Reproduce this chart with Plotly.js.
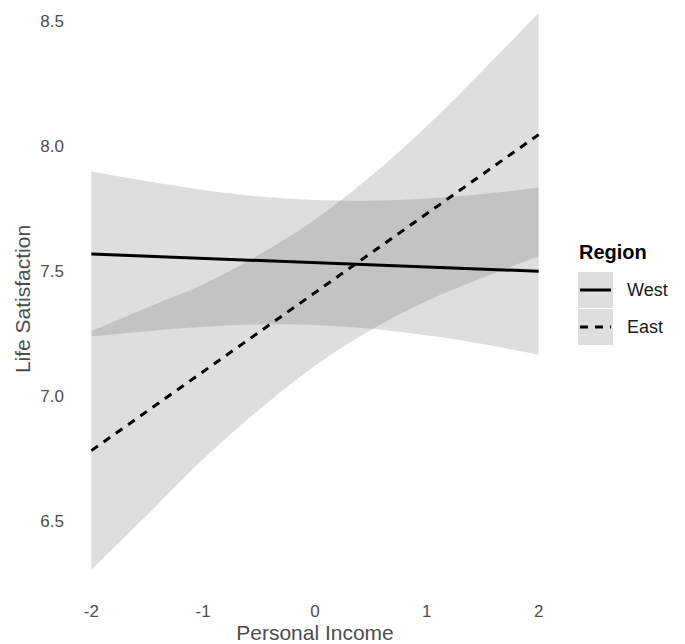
<!DOCTYPE html>
<html>
<head>
<meta charset="utf-8">
<script src="https://cdn.plot.ly/plotly-3.0.1.min.js"></script>
<style>
  html, body { margin: 0; padding: 0; background: #ffffff; }
  #chart { width: 685px; height: 644px; }
</style>
</head>
<body>
<div id="chart"></div>
<script>
// ---- data ----
const incomeX   = [-2, -1.5, -1, -0.5, 0, 0.5, 1, 1.5, 2];
const westLower = [7.238, 7.258, 7.276, 7.285, 7.283, 7.268, 7.242, 7.207, 7.164];
const westUpper = [7.897, 7.858, 7.823, 7.797, 7.783, 7.780, 7.789, 7.807, 7.833];
const eastLower = [6.302, 6.523, 6.746, 6.944, 7.120, 7.263, 7.379, 7.472, 7.558];
const eastUpper = [7.258, 7.353, 7.446, 7.564, 7.705, 7.879, 8.079, 8.302, 8.532];
const fitX      = [-2, 2];
const westFit   = [7.567, 7.498];
const eastFit   = [6.780, 8.045];
const regions   = ['West', 'East'];
const legendTitle = 'Region';
const xTickVals = [-2, -1, 0, 1, 2];
const xTickText = ['-2', '-1', '0', '1', '2'];
const yTickVals = [6.5, 7.0, 7.5, 8.0, 8.5];
const yTickText = ['6.5', '7.0', '7.5', '8.0', '8.5'];

// ---- styling / layout ----
const FONT = 'Liberation Sans, Arial, Helvetica, sans-serif';
const ribbonFill = 'rgba(90,90,90,0.2)';
const W = 685, H = 644;
const M = { l: 69, r: 124, t: 0, b: 46 };
const PW = W - M.l - M.r, PH = H - M.t - M.b;
const px2x = px => (px - M.l) / PW;
const py2y = py => 1 - (py - M.t) / PH;

const traces = [
  { x: incomeX, y: westLower, mode: 'lines', line: { width: 0, shape: 'spline' },
    showlegend: false, hoverinfo: 'skip' },
  { x: incomeX, y: westUpper, mode: 'lines', line: { width: 0, shape: 'spline' },
    fill: 'tonexty', fillcolor: ribbonFill, showlegend: false, hoverinfo: 'skip' },
  { x: incomeX, y: eastLower, mode: 'lines', line: { width: 0, shape: 'spline' },
    showlegend: false, hoverinfo: 'skip' },
  { x: incomeX, y: eastUpper, mode: 'lines', line: { width: 0, shape: 'spline' },
    fill: 'tonexty', fillcolor: ribbonFill, showlegend: false, hoverinfo: 'skip' },
  { x: fitX, y: westFit, mode: 'lines', name: regions[0],
    line: { color: '#000000', width: 3 }, showlegend: false },
  { x: fitX, y: eastFit, mode: 'lines', name: regions[1],
    line: { color: '#000000', width: 3, dash: '8px,7px' }, showlegend: false }
];

// custom ggplot-style legend
const keyL = 578, keyR = 613, keyH = 36, keyTop = 272;
const shapes = [];
const annotations = [
  { text: '<b>' + legendTitle + '</b>', xref: 'paper', yref: 'paper',
    x: px2x(keyL - 1), y: py2y(252), xanchor: 'left', yanchor: 'middle', showarrow: false,
    font: { family: FONT, size: 20, color: '#000000' } }
];
regions.forEach((name, i) => {
  const top = keyTop + i * (keyH + 1);
  shapes.push({ type: 'rect', xref: 'paper', yref: 'paper', layer: 'below',
    x0: px2x(keyL), x1: px2x(keyR), y0: py2y(top), y1: py2y(top + keyH),
    fillcolor: '#DEDEDE', line: { width: 0 } });
  shapes.push({ type: 'line', xref: 'paper', yref: 'paper',
    x0: px2x(keyL + 2), x1: px2x(keyR - 2), y0: py2y(top + keyH / 2), y1: py2y(top + keyH / 2),
    line: { color: '#000000', width: 3, dash: i === 0 ? 'solid' : '8px,7px' } });
  annotations.push({ text: name, xref: 'paper', yref: 'paper',
    x: px2x(625), y: py2y(top + keyH / 2), xanchor: 'left', yanchor: 'middle', showarrow: false,
    font: { family: FONT, size: 18, color: '#1A1A1A' } });
});

const axisCommon = {
  showgrid: false, zeroline: false, showline: false, ticks: '', ticklen: 0,
  tickfont: { family: FONT, size: 17, color: '#4D4D4D' }
};

const layout = {
  width: W, height: H,
  margin: M,
  paper_bgcolor: '#ffffff', plot_bgcolor: '#ffffff',
  showlegend: false,
  font: { family: FONT },
  xaxis: Object.assign({}, axisCommon, {
    range: [-2.2, 2.2], tickmode: 'array', tickvals: xTickVals, ticktext: xTickText,
    ticklabelstandoff: 1,
    title: { text: 'Personal Income', font: { family: FONT, size: 21, color: '#4D4D4D' }, standoff: 4 }
  }),
  yaxis: Object.assign({}, axisCommon, {
    range: [6.19, 8.584], tickmode: 'array', tickvals: yTickVals, ticktext: yTickText,
    ticklabelstandoff: 4,
    title: { text: 'Life Satisfaction', font: { family: FONT, size: 21, color: '#4D4D4D' }, standoff: 4 }
  }),
  shapes: shapes,
  annotations: annotations
};

Plotly.newPlot('chart', traces, layout, { staticPlot: true, displayModeBar: false });
</script>
</body>
</html>
